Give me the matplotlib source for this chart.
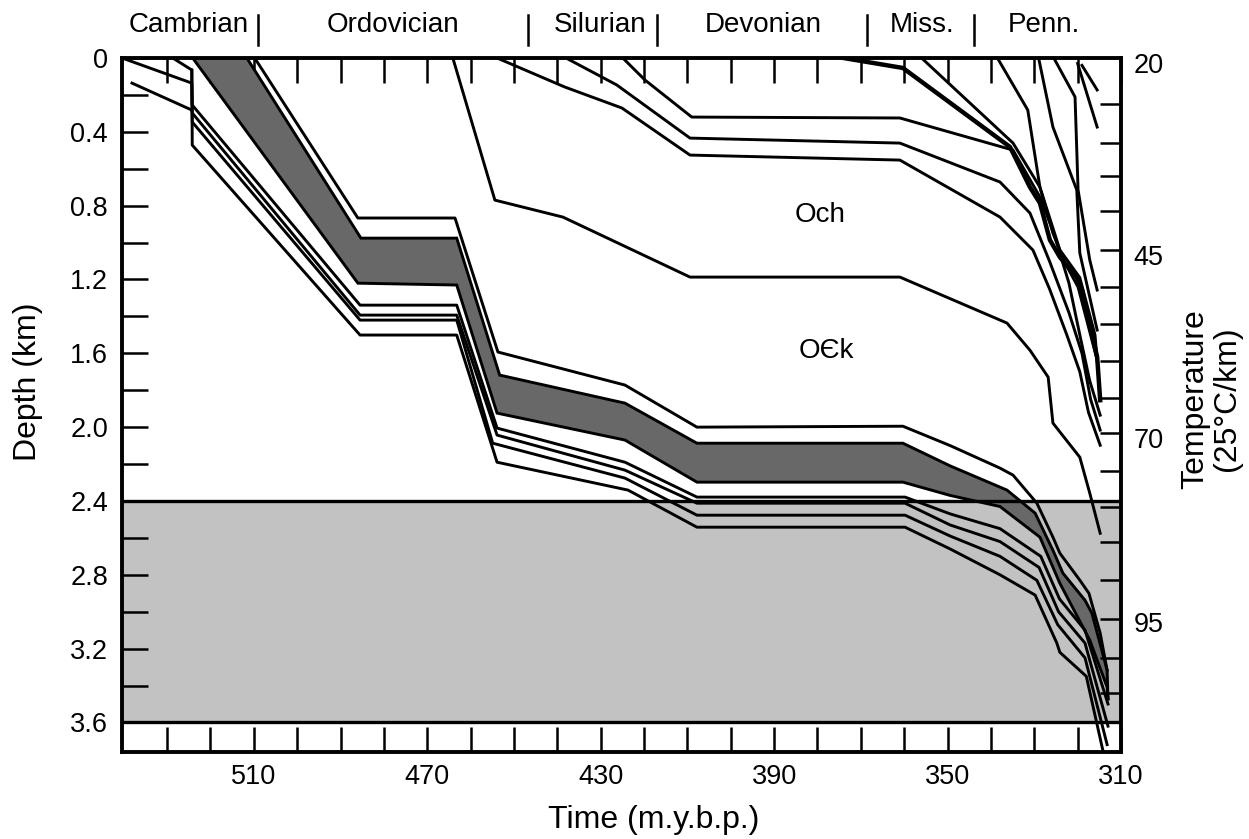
import matplotlib
matplotlib.use('Agg')
import matplotlib.pyplot as plt
from matplotlib.patches import Polygon, Rectangle
import matplotlib.transforms as mtransforms

plt.rcParams['font.family'] = ['Liberation Sans', 'DejaVu Sans']

# ---- burial curves: age (Ma) and depth (km) ----
# deep Cambrian horizons
ha_age = [540.4, 524.3, 524.2, 485.5, 463.2, 453.9, 424.4, 407.8, 359.8, 349.4, 337.9, 328.5, 324.2, 318.3, 313.0]
ha_dep = [0.0, 0.136, 0.255, 1.339, 1.339, 2.005, 2.190, 2.379, 2.379, 2.47, 2.55, 2.70, 2.93, 3.10, 3.50]
hb_age = [538.1, 524.3, 524.2, 485.5, 463.2, 453.9, 424.4, 407.8, 359.8, 349.4, 337.9, 328.9, 324.4, 318.3, 313.0]
hb_dep = [0.136, 0.282, 0.298, 1.393, 1.393, 2.043, 2.233, 2.412, 2.412, 2.53, 2.62, 2.76, 3.00, 3.17, 3.62]
hc_age = [528.7, 524.3, 524.2, 485.5, 463.2, 454.9, 424.4, 407.8, 359.8, 349.4, 337.9, 329.4, 324.6, 318.3, 313.2]
hc_dep = [0.0, 0.065, 0.347, 1.420, 1.420, 2.087, 2.276, 2.477, 2.477, 2.59, 2.70, 2.83, 3.07, 3.25, 3.72]
hd_age = [524.3, 524.2, 485.5, 463.2, 453.9, 423.7, 407.8, 359.8, 349.4, 337.9, 329.8, 324.8, 324.1, 318.0, 314.1]
hd_dep = [0.065, 0.472, 1.501, 1.501, 2.190, 2.341, 2.542, 2.542, 2.66, 2.80, 2.91, 3.17, 3.22, 3.35, 3.76]

# dark shaded unit
band_top_age = [511.6, 485.3, 463.2, 453.3, 424.4, 407.8, 360.3, 349.4, 336.3, 329.8, 325.7, 323.4, 318.3, 316.7, 313.2]
band_top_dep = [0.0, 0.976, 0.976, 1.718, 1.870, 2.087, 2.087, 2.21, 2.341, 2.466, 2.667, 2.791, 2.938, 3.008, 3.317]
band_bot_age = [524.1, 486.0, 463.2, 453.9, 424.4, 407.8, 360.3, 349.4, 337.9, 328.7, 324.1, 317.2, 313.2, 313.0]
band_bot_dep = [0.0, 1.22, 1.23, 1.924, 2.07, 2.298, 2.298, 2.37, 2.43, 2.596, 2.846, 3.154, 3.409, 3.48]

# line just above the dark unit
wl_age = [509.8, 486.0, 463.6, 453.7, 424.4, 407.8, 360.3, 349.4, 337.9, 334.9, 329.4, 325.7, 324.1, 319.5, 317.4, 314.8, 313.2]
wl_dep = [0.0, 0.867, 0.867, 1.593, 1.772, 2.0, 1.995, 2.10, 2.222, 2.26, 2.412, 2.596, 2.683, 2.829, 2.90, 3.116, 3.317]

# younger horizons
u1_age = [464.1, 454.4, 438.7, 409.4, 361.0, 336.3, 331.0, 326.8, 325.7, 319.5, 317.2, 314.8]
u1_dep = [0.0, 0.77, 0.862, 1.187, 1.187, 1.436, 1.583, 1.729, 1.978, 2.163, 2.358, 2.575]
u2_age = [453.9, 438.3, 425.1, 409.4, 361.0, 337.9, 330.3, 326.5, 322.5, 319.5, 317.5, 314.8]
u2_dep = [0.0, 0.157, 0.271, 0.526, 0.553, 0.862, 1.041, 1.25, 1.50, 1.70, 1.92, 2.098]
u3_age = [438.0, 426.3, 409.4, 361.0, 337.9, 331.0, 326.5, 322.0, 319.0, 317.0, 314.8]
u3_dep = [0.0, 0.146, 0.434, 0.461, 0.672, 0.84, 1.10, 1.38, 1.60, 1.85, 2.016]
u4_age = [424.9, 419.8, 409.0, 361.0, 334.9, 328.7, 325.5, 322.0, 319.5, 317.2, 314.8]
u4_dep = [0.0, 0.119, 0.320, 0.325, 0.499, 0.753, 0.95, 1.22, 1.50, 1.75, 1.935]
u5_age = [374.0, 360.3, 335.6, 331.0, 328.7, 326.4, 324.1, 320.2, 319.0, 315.5, 314.8]
u5_dep = [0.0, 0.054, 0.482, 0.70, 0.786, 0.986, 1.079, 1.187, 1.257, 1.62, 1.854]
u6_age = [356.0, 334.9, 328.7, 324.1, 319.5, 316.0, 315.2]
u6_dep = [0.0, 0.461, 0.70, 1.04, 1.19, 1.50, 1.72]
u7_age = [338.5, 331.5, 328.7, 325.7, 322.9, 319.9, 315.5]
u7_dep = [0.0, 0.282, 0.70, 0.949, 1.111, 1.241, 1.637]
u8_age = [329.0, 325.7, 320.2, 319.5, 315.5]
u8_dep = [0.0, 0.374, 0.715, 1.057, 1.474]
u9_age = [325.5, 320.6, 319.9, 317.2, 315.5]
u9_dep = [0.0, 0.211, 0.715, 1.095, 1.257]
u10_age = [320.0, 315.5]
u10_dep = [0.03, 0.374]
u11_age = [319.0, 315.5]
u11_dep = [0.04, 0.173]

# stippled depth interval (km)
zone_top, zone_bot = 2.4, 3.6

# axis ticks and labels
x_major = [510, 470, 430, 390, 350, 310]
x_minor = [530, 520, 500, 490, 480, 460, 450, 440, 420, 410, 400, 380, 370, 360, 340, 330, 320]
y_major = [0, 0.4, 0.8, 1.2, 1.6, 2.0, 2.4, 2.8, 3.2, 3.6]
y_major_lbl = ['0', '0.4', '0.8', '1.2', '1.6', '2.0', '2.4', '2.8', '3.2', '3.6']
y_minor = [0.2, 0.6, 1.0, 1.4, 1.8, 2.2, 2.6, 3.0, 3.4]
temp_pos = [0.027, 1.068, 2.06, 3.057]
temp_lbl = ['20', '45', '70', '95']
temp_minor = [0.25, 0.46, 0.64, 0.83, 1.04, 1.24, 1.44, 1.64, 1.84, 2.03,
              2.24, 2.43, 2.62, 2.83, 3.04, 3.25, 3.44]

periods = ['Cambrian', 'Ordovician', 'Silurian', 'Devonian', 'Miss.', 'Penn.']
period_mid = [525.0, 477.9, 430.2, 392.6, 355.9, 327.8]
period_bars = [509.1, 446.8, 417.0, 368.6, 343.9]

XMIN, XMAX = 540.4, 310.0
YMAX = 3.76

fig = plt.figure(figsize=(12.49, 8.39), dpi=100)
ax = fig.add_axes([122/1249, 1-752/839, (1121-122)/1249, (752-58)/839])
ax.set_xlim(XMIN, XMAX)
ax.set_ylim(YMAX, 0)

ax.add_patch(Rectangle((XMAX, zone_top), XMIN-XMAX, zone_bot-zone_top,
                       facecolor='#c2c2c2', edgecolor='none', zorder=1))
ax.axhline(zone_top, color='k', lw=2.4, zorder=3)
ax.axhline(zone_bot, color='k', lw=2.4, zorder=3)

band = Polygon(list(zip(band_top_age + band_bot_age[::-1],
                        band_top_dep + band_bot_dep[::-1])),
               closed=True, facecolor='#686868', edgecolor='k', lw=2.1, zorder=2)
ax.add_patch(band)

curves = [(ha_age, ha_dep), (hb_age, hb_dep), (hc_age, hc_dep), (hd_age, hd_dep),
          (wl_age, wl_dep), (u1_age, u1_dep), (u2_age, u2_dep), (u3_age, u3_dep),
          (u4_age, u4_dep), (u6_age, u6_dep), (u7_age, u7_dep),
          (u8_age, u8_dep), (u9_age, u9_dep), (u10_age, u10_dep), (u11_age, u11_dep)]
for a, d in curves:
    ax.plot(a, d, color='k', lw=2.1, zorder=4)
ax.plot(u5_age, u5_dep, color='k', lw=3.2, zorder=4)

ax.text(379.5, 0.85, 'Och', fontsize=20, ha='center', va='center')
ax.text(378.0, 1.59, 'O\u0404k', fontsize=20, ha='center', va='center')

for s in ax.spines.values():
    s.set_linewidth(2.8)

ax.set_xticks(x_major)
ax.set_xticks(x_minor, minor=True)
ax.set_yticks(y_major, y_major_lbl)
ax.set_yticks(y_minor, minor=True)
ax.tick_params(axis='x', which='both', direction='in', length=18, width=1.8,
               top=True, bottom=True, labeltop=False, labelsize=19.5, pad=9)
ax.tick_params(axis='y', which='both', direction='in', length=19, width=1.8,
               left=True, right=False, labelsize=19.5, pad=10)

ax2 = ax.twinx()
ax2.set_ylim(YMAX, 0)
ax2.set_yticks(temp_pos, temp_lbl)
ax2.set_yticks(temp_minor, minor=True)
ax2.tick_params(axis='y', which='major', length=0, labelsize=19.5, pad=9)
ax2.tick_params(axis='y', which='minor', direction='in', length=15, width=1.8)
for s in ax2.spines.values():
    s.set_visible(False)

trans = mtransforms.blended_transform_factory(ax.transData, ax.transAxes)
for name, t in zip(periods, period_mid):
    ax.text(t, 1.0476, name, transform=trans, ha='center', va='center', fontsize=20)
for t in period_bars:
    ax.plot([t, t], [1.019, 1.062], transform=trans, clip_on=False, color='k', lw=1.8)

fig.text(28/1249, 1-382/839, 'Depth (km)', rotation=90, ha='center', va='center', fontsize=23)
fig.text(654/1249, 1-820/839, 'Time (m.y.b.p.)', ha='center', va='center', fontsize=23)
fig.text(1211/1249, 1-399/839, 'Temperature\n(25\u00b0C/km)', rotation=90,
         ha='center', va='center', fontsize=23, multialignment='center', linespacing=1.1)

fig.savefig('out.png', dpi=100)
